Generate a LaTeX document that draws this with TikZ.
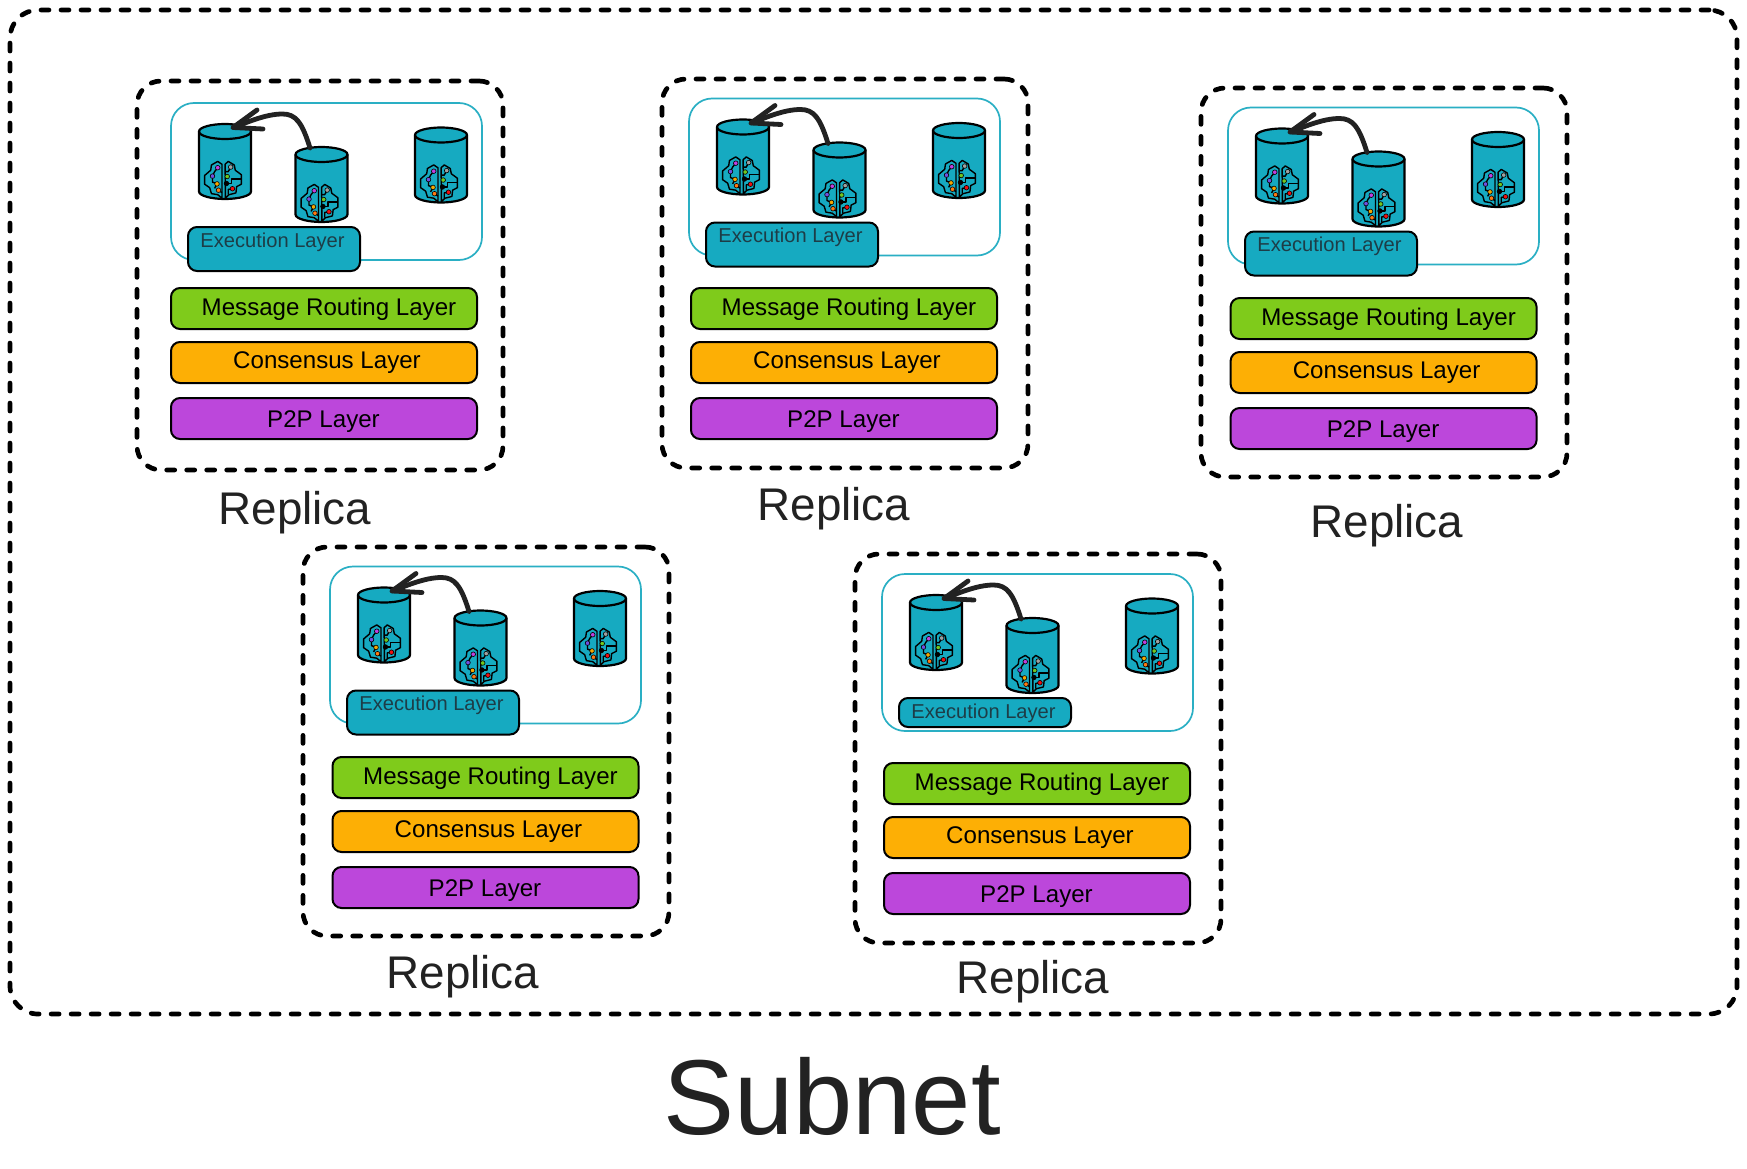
\documentclass[tikz,border=0pt]{standalone}
\usepackage{fontspec}
\setmainfont{Liberation Sans}
\usetikzlibrary{calc}
\definecolor{tealfill}{HTML}{16AAC1}
\definecolor{tealline}{HTML}{2AAFC4}
\definecolor{greenfill}{HTML}{7FCB1B}
\definecolor{orangefill}{HTML}{FDAF05}
\definecolor{purplefill}{HTML}{BC47DB}
\definecolor{inktext}{HTML}{222222}
\definecolor{exectext}{HTML}{1D3D47}
\definecolor{dotpurple}{HTML}{C040E0}
\definecolor{dotviolet}{HTML}{7050E0}
\definecolor{dotamber}{HTML}{F5A800}
\definecolor{dotorange}{HTML}{FF7A10}
\definecolor{dotgrey}{HTML}{A0A0A0}
\definecolor{dotgreen}{HTML}{70C820}
\definecolor{dotred}{HTML}{F01010}
\tikzset{
  dashbox/.style={draw=black,rectangle,line width=4.7pt,line cap=round,dash pattern=on 8pt off 12pt,inner sep=0pt,outer sep=0pt},
  groupbox/.style={draw=tealline,rectangle,fill=white,line width=1.7pt,rounded corners=23pt,inner sep=0pt,outer sep=0pt,anchor=north west,minimum width=311pt,minimum height=157pt},
  execbox/.style={draw=black,rectangle,fill=tealfill,line width=2pt,rounded corners=9pt,inner sep=0pt,outer sep=0pt,anchor=north west,minimum width=172pt},
  layerbox/.style={draw=black,rectangle,line width=2pt,rounded corners=9pt,inner sep=0pt,outer sep=0pt,anchor=north west,minimum width=306pt,minimum height=41pt},
  drum/.style={rectangle,inner sep=0pt,outer sep=0pt,minimum width=52pt,minimum height=75pt},
  layertext/.style={anchor=base,inner sep=0pt,text=black,font=\fontsize{24.1}{28}\selectfont},
  exectxt/.style={anchor=base,inner sep=0pt,text=exectext,font=\fontsize{20.1}{24}\selectfont},
  replicatxt/.style={anchor=base,inner sep=0pt,text=inktext,font=\fontsize{45.8}{50}\selectfont},
  subnettxt/.style={anchor=base,inner sep=0pt,text=inktext,font=\fontsize{106.5}{120}\selectfont},
  link/.style={draw=inktext,line width=4.8pt,line cap=round,line join=round},
  brainline/.style={draw=black,line width=1.4pt,line join=round},
  drumbody/.pic={
    \draw[fill=tealfill,draw=black,line width=2.2pt] (-26,-30) -- (-26,30) .. controls (-26,34.5) and (-13,37.5) .. (0,37.5) .. controls (13,37.5) and (26,34.5) .. (26,30) -- (26,-30) .. controls (26,-34.5) and (13,-37.5) .. (0,-37.5) .. controls (-13,-37.5) and (-26,-34.5) .. (-26,-30) -- cycle;
    \draw[draw=black,line width=2.2pt] (-26,-30) .. controls (-26,-25.5) and (-13,-22.5) .. (0,-22.5) .. controls (13,-22.5) and (26,-25.5) .. (26,-30);
  },
  brainicon/.pic={
    \draw[brainline] (-1,-15)--(-5,-17.7)--(-11,-14.3)--(-11.7,-9.3)--(-17.5,-4.3)--(-17.5,4)--(-12.7,7.3)--(-11,13)--(-5,14)--(-1,17.3)--cycle;
    \draw[brainline] (2,-15)--(5,-17.7)--(10.7,-14.3)--(11.7,-9.3)--(17.5,-5)--(17.5,4)--(13,6.3)--(12.3,12.3)--(5.7,14)--(2.3,17.3)--cycle;
    \draw[brainline] (-5,-11.7)--(-8,-8)--(-10,-3.7);
    \draw[brainline] (-10,-3.7)--(-10,2)--(-5.7,3.7);
    \draw[brainline] (-5.7,3.7)--(-8,8);
    \draw[brainline] (-4.3,9.7)--(-1,12);
    \draw[brainline] (7.3,-12.3)--(5,-8)--(2,-8);
    \draw[brainline] (4,-3.3)--(2,-1);
    \draw[brainline] (17.5,-1)--(8,-1)--(8,3.3)--(3.3,3.3);
    \draw[brainline] (9,8.3)--(5,9)--(5,14);
    \foreach \dx/\dy/\dc in {-5/-11.7/dotpurple,-10/-3.7/dotviolet,-5.7/3.7/dotamber,-4.3/9.7/dotorange,7.3/-12.3/dotgrey,4/-3.3/dotgreen,3.3/3.3/black,9/8.3/dotred}
      \filldraw[draw=black,line width=.6pt,fill=\dc] (\dx,\dy) circle (2.2);
  }
}
\newcommand{\replica}[6]{%
  \begin{scope}[name prefix=#1-]
    \begin{scope}[shift={(#2)}]
      \node[dashbox,minimum width=366pt,minimum height=389pt,rounded corners=24pt] (frame) at (320,275.5) {};
    \end{scope}
    \begin{scope}[shift={(#3)}]
      \node[groupbox] (group) at (171,103) {};
      \node[drum] (c1) at (225,161.5) {};
      \node[drum] (c2) at (321.5,184.5) {};
      \node[drum] (c3) at (441,165) {};
      \pic at (c1.center) {drumbody};
      \pic at (c2.center) {drumbody};
      \pic at (c3.center) {drumbody};
      \pic[scale=1.05] at ($(c1.center)+(-2,18.5)$) {brainicon};
      \pic[scale=1.05] at ($(c2.center)+(-2,18.5)$) {brainicon};
      \pic[scale=1.05] at ($(c3.center)+(-2,18.5)$) {brainicon};
      \coordinate (tip) at ($(c1.north)+(8,3.5)$);
      \coordinate (barbA) at ($(c1.north)+(32,-14)$);
      \coordinate (barbB) at ($(c1.north)+(38,5)$);
      \draw[link] ($(c2.north)+(-11.5,1)$) .. controls +(-8,-26) and +(13,0) .. ($(c2.north)+(-39,-33)$) .. controls +(-17,0) and +(14,-5) .. (tip);
      \draw[link] (barbA) -- (tip) -- (barbB);
      \node[execbox,minimum height=#6pt] (exec) at (188,227) {};
      \node[exectxt] (exectext) at (272.5,247) {Execution Layer};
    \end{scope}
    \begin{scope}[shift={(#4)}]
      \node[layerbox,fill=greenfill] (mr) at (171,288) {};
      \node[layertext] (mrtext) at (329,315.5) {Message Routing Layer};
      \node[layerbox,fill=orangefill] (cons) at (171,342) {};
      \node[layertext] (constext) at (327,368) {Consensus Layer};
      \node[layerbox,fill=purplefill] (ptp) at (171,398) {};
      \node[layertext] (ptptext) at (323.5,427) {P2P Layer};
    \end{scope}
    \node[replicatxt] (label) at (#5) {Replica};
  \end{scope}
}
\begin{document}
\begin{tikzpicture}[x=1pt,y=-1pt]
  \path[use as bounding box,fill=white] (0,0) rectangle (1747,1169);
  \node[dashbox,minimum width=1727pt,minimum height=1004pt,rounded corners=28pt] (subnet) at (873.5,512) {};
  \replica{r1}{0,0}{0,0}{0,0}{295,524}{44}
  \replica{r2}{525,-2}{518,-4.5}{520,0}{834,520.7}{44}
  \replica{r3}{1064,7}{1057,4.5}{1059.6,10}{1387,537.4}{44}
  \replica{r4}{166,466}{159,463.5}{161.5,469}{463,988.6}{44}
  \replica{r5}{718,473}{711,471}{713,475}{1033,993}{29}
  \node[subnettxt] (subnetlabel) at (832,1134) {Subnet};
\end{tikzpicture}
\end{document}
